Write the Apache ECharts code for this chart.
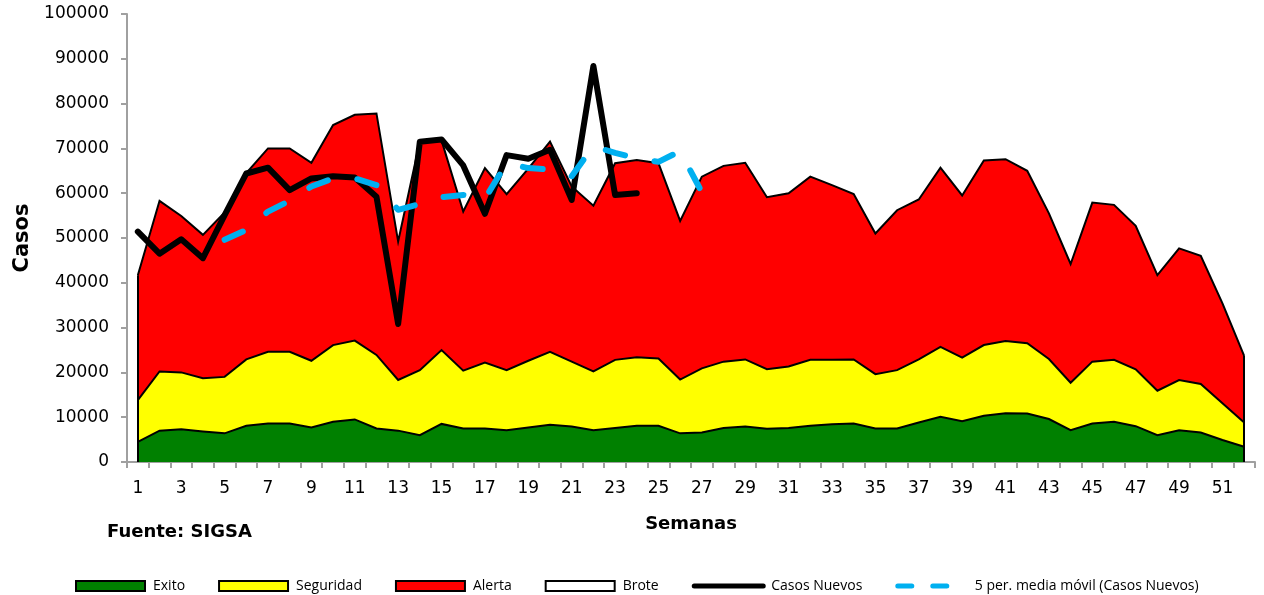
<!DOCTYPE html>
<html>
<head>
<meta charset="utf-8">
<script src="https://cdn.jsdelivr.net/npm/echarts@6/dist/echarts.min.js"></script>
<style>
  html, body { margin: 0; background: #fff; }
  #chart { width: 1264px; height: 595px; }
</style>
</head>
<body>
<div id="chart"></div>
<script>
// Canal endemico por semana epidemiologica
const weeks = ["1","2","3","4","5","6","7","8","9","10","11","12","13","14","15","16","17","18","19","20",
  "21","22","23","24","25","26","27","28","29","30","31","32","33","34","35","36","37","38","39","40",
  "41","42","43","44","45","46","47","48","49","50","51","52"];

// limites superiores de cada zona (acumulados)
const exito = [4500,7000,7300,6800,6400,8100,8600,8600,7700,9000,9500,7500,7000,6000,8500,7500,7500,7100,7700,8300,
  7900,7100,7600,8100,8100,6400,6600,7600,7900,7400,7600,8100,8400,8600,7500,7500,8800,10100,9100,10300,
  10900,10800,9600,7100,8600,9000,8000,6000,7100,6600,4900,3400];
const seguridad = [13800,20200,20000,18700,19000,22900,24600,24600,22600,26100,27100,23900,18300,20500,25000,20400,22200,20500,22600,24600,
  22400,20200,22800,23400,23100,18400,20900,22400,22900,20700,21300,22800,22800,22900,19600,20500,22900,25700,23300,26100,
  27000,26500,23000,17700,22400,22800,20700,15900,18300,17400,13100,8800];
const alerta = [41700,58300,54900,50700,55700,64500,70000,70000,66800,75200,77500,77800,49200,71600,71800,55900,65600,59800,65500,71500,
  61500,57200,66700,67400,66700,53800,63700,66100,66800,59100,60000,63700,61800,59800,51000,56200,58600,65700,59500,67300,
  67600,65000,55500,44200,57900,57400,52700,41700,47700,46000,35400,23700];
const brote = [];

const casosNuevos = [51400,46500,49700,45500,55100,64400,65700,60700,63300,63800,63500,59200,30800,71500,72000,66200,55400,68500,67700,69700,
  58500,88400,59600,60000,null,null,null,null,null,null,null,null,null,null,null,null,null,null,null,null,
  null,null,null,null,null,null,null,null,null,null,null,null];
const mediaMovil = [null,null,null,null,49600,51800,55900,58300,61500,63300,63300,61800,56300,57600,59100,59600,58800,66700,65600,65300,
  63800,70500,69000,67800,67000,69400,60200,null,null,null,null,null,null,null,null,null,null,null,null,null,
  null,null,null,null,null,null,null,null,null,null,null,null];

const yTicks = { min: 0, max: 100000, interval: 10000 };

const axisGray = "#a0a0a0";
const labelFont = "DejaVu Sans";
const legendFont = "Open Sans";

function areaSeries(name, data, color, z) {
  return {
    name,
    type: "line",
    data,
    z,
    symbol: "none",
    silent: true,
    lineStyle: { color: "#000", width: 2, join: "miter" },
    itemStyle: { color, borderColor: "#000", borderWidth: 2 },
    areaStyle: { color, opacity: 1 },
  };
}

const chart = echarts.init(document.getElementById("chart"), null, { renderer: "canvas" });

const exitoSeries = areaSeries("Exito", exito, "#008000", 3);
// bordes verticales de las areas al inicio y al final
exitoSeries.markLine = {
  silent: true,
  symbol: "none",
  animation: false,
  label: { show: false },
  lineStyle: { color: "#000", width: 2, type: "solid" },
  data: [
    [{ coord: [weeks[0], 0] }, { coord: [weeks[0], alerta[0]] }],
    [{ coord: [weeks[51], 0] }, { coord: [weeks[51], alerta[51]] }],
  ],
};

chart.setOption({
  animation: false,
  backgroundColor: "#fff",
  grid: { left: 127, right: 9, top: 14, bottom: 133, containLabel: false, outerBoundsMode: "none" },
  legend: {
    left: 75,
    top: 579,
    padding: 0,
    itemWidth: 69,
    itemHeight: 10,
    itemGap: 33,
    textStyle: { fontFamily: legendFont, fontSize: 14, color: "#000", padding: [0, 0, 0, 3] },
    data: [
      { name: "Exito", icon: "rect", itemStyle: { color: "#008000", borderColor: "#000", borderWidth: 2 } },
      { name: "Seguridad", icon: "rect", itemStyle: { color: "#ffff00", borderColor: "#000", borderWidth: 2 } },
      { name: "Alerta", icon: "rect", itemStyle: { color: "#ff0000", borderColor: "#000", borderWidth: 2 } },
      { name: "Brote", icon: "rect", itemStyle: { color: "#ffffff", borderColor: "#000", borderWidth: 2 } },
      { name: "Casos Nuevos", itemStyle: { opacity: 0 }, lineStyle: { color: "#000", width: 5, cap: "round" } },
      { name: "5 per. media móvil (Casos Nuevos)", itemStyle: { opacity: 0 },
        lineStyle: { color: "#00b0f0", width: 5, type: [14, 21], cap: "round" } },
    ],
  },
  xAxis: {
    type: "category",
    data: weeks,
    boundaryGap: true,
    name: "Semanas",
    nameLocation: "middle",
    nameGap: 53,
    nameTextStyle: { fontFamily: labelFont, fontSize: 18, fontWeight: "bold", color: "#000" },
    axisLine: { lineStyle: { color: axisGray, width: 2 } },
    axisTick: { show: true, interval: 0, length: 6, lineStyle: { color: axisGray, width: 2 } },
    axisLabel: { interval: 1, margin: 18, fontFamily: labelFont, fontSize: 17, color: "#000" },
    splitLine: { show: false },
  },
  yAxis: {
    type: "value",
    min: yTicks.min,
    max: yTicks.max,
    interval: yTicks.interval,
    name: "Casos",
    nameLocation: "middle",
    nameGap: 94,
    nameRotate: 90,
    nameTextStyle: { fontFamily: labelFont, fontSize: 21, fontWeight: "bold", color: "#000" },
    axisLine: { show: true, lineStyle: { color: axisGray, width: 2 } },
    axisTick: { show: true, length: 6, lineStyle: { color: axisGray, width: 2 } },
    axisLabel: { margin: 18, fontFamily: labelFont, fontSize: 17, color: "#000", formatter: (v) => String(v) },
    splitLine: { show: false },
  },
  graphic: [
    {
      type: "text",
      left: 107,
      top: 523,
      style: { text: "Fuente: SIGSA", fontFamily: labelFont, fontSize: 18, fontWeight: "bold", fill: "#000" },
    },
  ],
  series: [
    exitoSeries,
    areaSeries("Seguridad", seguridad, "#ffff00", 2),
    areaSeries("Alerta", alerta, "#ff0000", 1),
    areaSeries("Brote", brote, "#ffffff", 1),
    {
      name: "Casos Nuevos",
      type: "line",
      data: casosNuevos,
      z: 4,
      symbol: "none",
      connectNulls: false,
      lineStyle: { color: "#000", width: 6, join: "round", cap: "round" },
      itemStyle: { color: "#000" },
    },
    {
      name: "5 per. media móvil (Casos Nuevos)",
      type: "line",
      data: mediaMovil,
      z: 5,
      symbol: "none",
      lineStyle: { color: "#00b0f0", width: 6, type: [20, 30], cap: "round", join: "round" },
      itemStyle: { color: "#00b0f0" },
    },
  ],
});
</script>
</body>
</html>
